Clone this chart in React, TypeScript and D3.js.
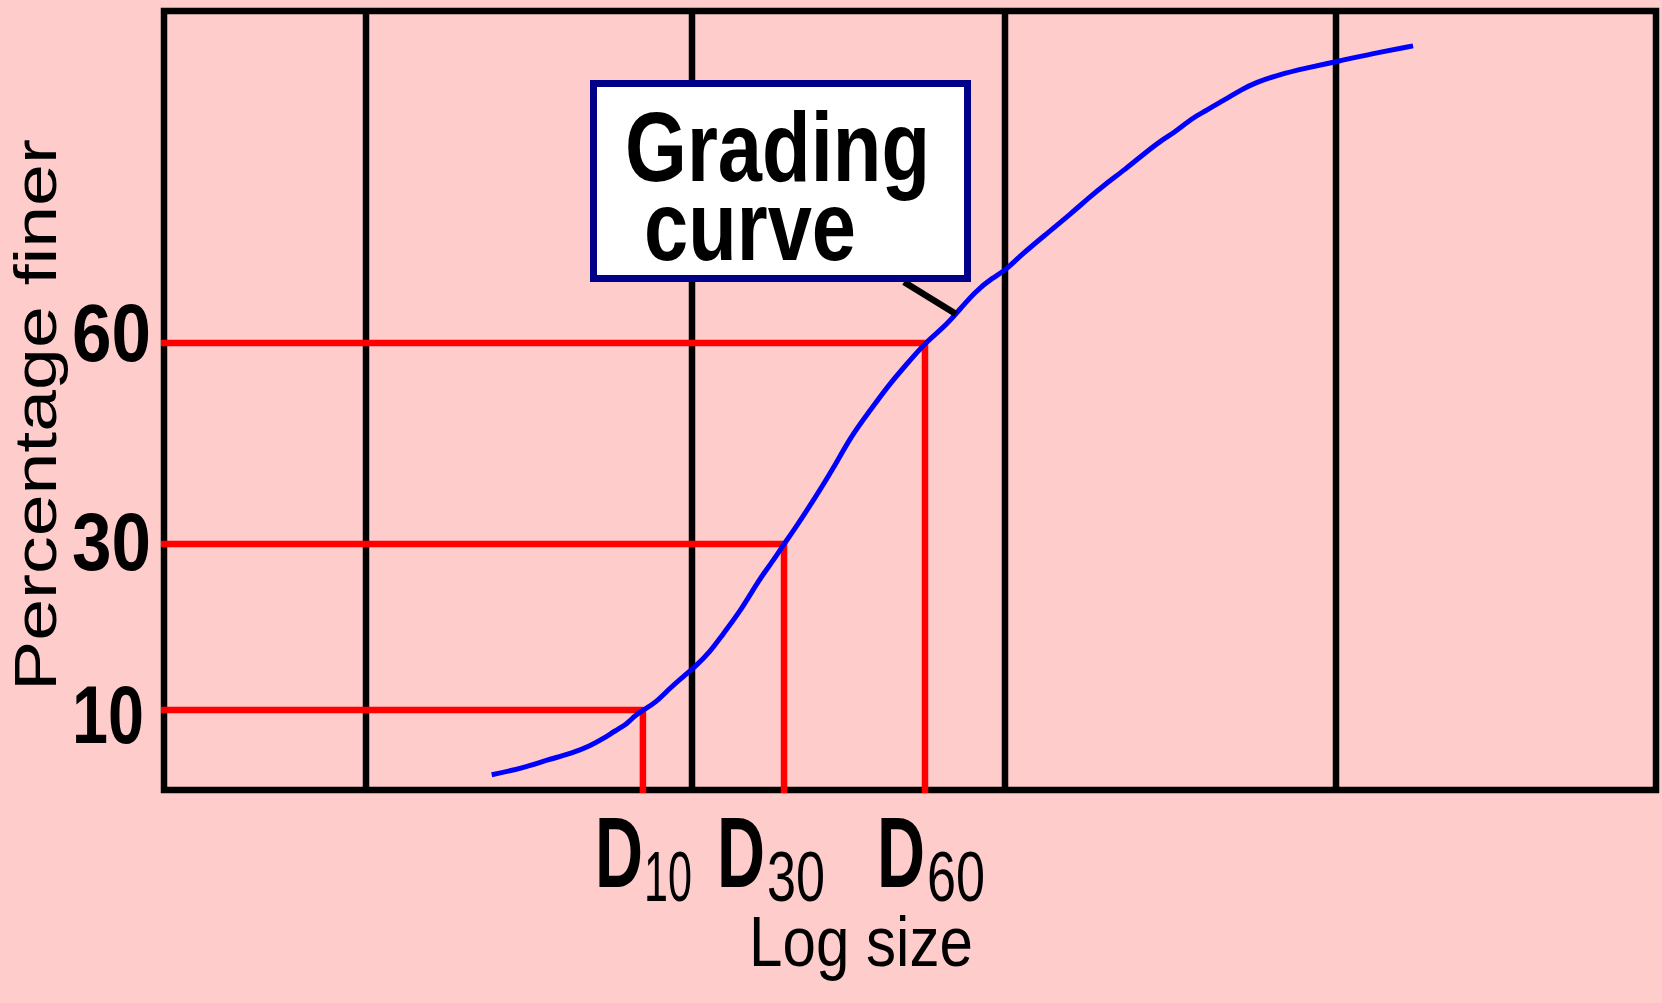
import React from "react";
import * as d3 from "d3";

const sieveSizes = [
  0.0243, 0.0303, 0.0359, 0.0429, 0.0486, 0.0533, 0.0581, 0.0632, 0.0659, 0.0707,
  0.077, 0.0856, 0.0958, 0.1022, 0.1142, 0.1247, 0.1434, 0.1637, 0.1801, 0.1968,
  0.2148, 0.2472, 0.2822, 0.3221, 0.3704, 0.4227, 0.4864, 0.5551, 0.6337, 0.6972,
  0.8017, 0.9156, 1.0, 1.11, 1.321, 1.594, 1.781, 2.019, 2.304, 2.612, 2.96, 3.24,
  3.673, 4.02, 4.371, 4.751, 5.164, 5.733, 6.68, 8.06, 10.29, 12.77, 17.41,
];
const percentFiner = [
  1.9, 2.75, 3.75, 4.6, 5.5, 6.4, 7.4, 8.25, 9.1, 10, 10.8, 12.65, 14.3, 15.2, 17.0,
  19.0, 22.0, 25.7, 27.8, 30, 32.5, 36.9, 41.2, 46.1, 49.9, 53.6, 56.9, 60, 61.8,
  63.5, 66.2, 67.9, 68.7, 70.5, 73.0, 75.7, 77.4, 79.2, 80.9, 82.7, 84.4, 85.3, 87.1,
  87.9, 88.8, 89.6, 90.5, 91.4, 92.3, 93.1, 94.0, 94.8, 95.8,
];

// characteristic diameters D10, D30, D60
const dPercents = [10, 30, 60];
const dSizes = [0.0707, 0.1968, 0.5551];

// log-size grid lines
const gridSizes = [0.01, 0.1, 1, 10];
const yTicks = [10, 30, 60];

const FONT = "'Liberation Sans', Arial, sans-serif";

export default function App() {
  const W = 1662;
  const H = 1003;

  // schematic axes: log size across, percentage finer up
  const x = d3
    .scaleLog()
    .domain([0.0025, 0.01, 0.1, 1, 10, 100])
    .range([164, 366, 692, 1005, 1336, 1656]);
  const y = d3
    .scaleLinear()
    .domain([0, 10, 30, 60, 100])
    .range([790, 710, 544, 343, 11]);

  const left = x.range()[0];
  const right = x.range()[x.range().length - 1];
  const top = y(100);
  const bottom = y(0);

  const points = sieveSizes.map((s, i) => [s, percentFiner[i]]);
  const line = d3
    .line()
    .x((d) => x(d[0]))
    .y((d) => y(d[1]))
    .curve(d3.curveBasis);

  const tickBase = { 60: 18, 30: 26, 10: 33 };
  const tickWidth = { 60: 79, 30: 79, 10: 72 };
  const dShift = { 10: 0, 30: -19, 60: 0 };

  // leader from the label box to the curve
  const leadEnd = [x(0.6972), y(63.5)];

  return (
    <>
      <style>{"body{margin:0}"}</style>
      <svg width={W} height={H} style={{ display: "block" }}>
        <rect x={0} y={0} width={W} height={H} fill="#ffcccc" />

        {/* grid */}
        {gridSizes.map((g) => (
          <line
            key={g}
            x1={x(g)}
            x2={x(g)}
            y1={top}
            y2={bottom}
            stroke="#000"
            strokeWidth={6.5}
          />
        ))}
        <rect
          x={left}
          y={top}
          width={right - left}
          height={bottom - top}
          fill="none"
          stroke="#000"
          strokeWidth={6.5}
        />

        {/* D10 / D30 / D60 construction lines */}
        {dPercents.map((p, i) => (
          <g key={p} stroke="#ff0000" strokeWidth={6.5} fill="none">
            <line x1={left - 3} x2={x(dSizes[i])} y1={y(p)} y2={y(p)} />
            <line x1={x(dSizes[i])} x2={x(dSizes[i])} y1={y(p) - 3} y2={bottom + 3} />
          </g>
        ))}

        {/* grading curve */}
        <path
          d={line(points)}
          fill="none"
          stroke="#0000ff"
          strokeWidth={5}
        />

        {/* callout */}
        <line
          x1={904}
          y1={282}
          x2={leadEnd[0]}
          y2={leadEnd[1]}
          stroke="#000"
          strokeWidth={6.5}
        />
        <rect
          x={593.5}
          y={83.5}
          width={374}
          height={195}
          fill="#ffffff"
          stroke="#000088"
          strokeWidth={7}
        />
        <text
          x={625}
          y={181}
          fontFamily={FONT}
          fontWeight="bold"
          fontSize={98}
          textLength={305}
          lengthAdjust="spacingAndGlyphs"
        >
          Grading
        </text>
        <text
          x={644}
          y={260}
          fontFamily={FONT}
          fontWeight="bold"
          fontSize={98}
          textLength={212}
          lengthAdjust="spacingAndGlyphs"
        >
          curve
        </text>

        {/* y tick labels */}
        {yTicks.map((t) => (
          <text
            key={t}
            x={72}
            y={y(t) + tickBase[t]}
            fontFamily={FONT}
            fontWeight="bold"
            fontSize={81}
            textLength={tickWidth[t]}
            lengthAdjust="spacingAndGlyphs"
          >
            {t}
          </text>
        ))}

        <text
          transform="translate(56,415) rotate(-90)"
          textAnchor="middle"
          fontFamily={FONT}
          fontSize={60}
          textLength={552}
          lengthAdjust="spacingAndGlyphs"
        >
          Percentage finer
        </text>

        {/* D labels */}
        {dPercents.map((p, i) => {
          const cx = x(dSizes[i]) + dShift[p];
          return (
            <g key={p}>
              <text
                x={cx - 48}
                y={887}
                fontFamily={FONT}
                fontWeight="bold"
                fontSize={100}
                textLength={48}
                lengthAdjust="spacingAndGlyphs"
              >
                D
              </text>
              <text
                x={cx + (p === 10 ? 1 : 2)}
                y={901}
                fontFamily={FONT}
                fontSize={70}
                textLength={p === 10 ? 48 : 58}
                lengthAdjust="spacingAndGlyphs"
              >
                {p}
              </text>
            </g>
          );
        })}

        <text
          x={749}
          y={966}
          fontFamily={FONT}
          fontSize={71}
          textLength={224}
          lengthAdjust="spacingAndGlyphs"
        >
          Log size
        </text>
      </svg>
    </>
  );
}
